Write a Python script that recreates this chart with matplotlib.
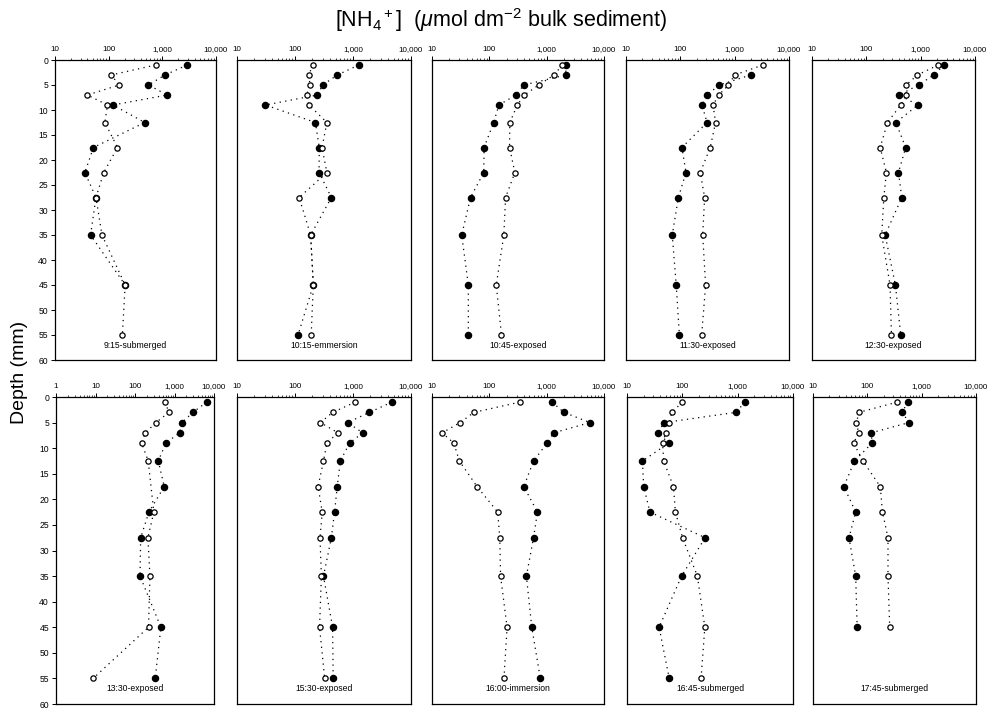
import numpy as np
import matplotlib
matplotlib.use('Agg')
import matplotlib.pyplot as plt
from matplotlib.ticker import FixedLocator, LogLocator, NullFormatter

plt.rcParams['font.family'] = ['Liberation Sans', 'DejaVu Sans']
plt.rcParams['mathtext.fontset'] = 'custom'
plt.rcParams['mathtext.rm'] = 'Liberation Sans'
plt.rcParams['mathtext.it'] = 'Liberation Sans:italic'

nan = np.nan
depth = [1, 3, 5, 7, 9, 12.5, 17.5, 22.5, 27.5, 35, 45, 55]

panel_labels = ["9:15-submerged", "10:15-emmersion", "10:45-exposed", "11:30-exposed",
                "12:30-exposed", "13:30-exposed", "15:30-exposed", "16:00-immersion",
                "16:45-submerged", "17:45-submerged"]

filled_0915 = [2900, 1120, 550, 1230, 120, 470, 52, 36, 58, 46, 203, nan]
open_0915 = [750, 111, 158, 40, 95, 85, 146, 81, 58, 75, 203, 180]

filled_1015 = [1260, 535, 300, 244, 31, 225, 262, 260, 424, 186, 207, 113]
open_1015 = [204, 172, 182, 158, 174, 355, 292, 355, 118, 186, 207, 190]

filled_1045 = [2190, 2140, 400, 290, 147, 119, 81, 80, 47, 33, 43, 43]
open_1045 = [1860, 1350, 725, 410, 308, 228, 225, 279, 192, 179, 132, 163]

filled_1130 = [nan, 1960, 520, 310, 250, 310, 107, 127, 92, 71, 84, 96]
open_1130 = [3300, 1000, 770, 510, 400, 445, 355, 233, 280, 258, 292, 247]

filled_1230 = [2700, 1740, 915, 400, 890, 350, 530, 390, 450, 222, 343, 430]
open_1230 = [2100, 870, 540, 540, 430, 245, 180, 234, 210, 192, 273, 290]

filled_1330 = [6550, 2900, 1560, 1340, 605, 388, 550, 225, 139, 134, 452, 325]
open_1330 = [580, 720, 340, 182, 147, 216, nan, 300, 212, 239, 220, 8.7]

filled_1530 = [4700, 1920, 810, 1470, 875, 605, 535, 480, 424, 310, 445, 455]
open_1530 = [1100, 445, 275, 550, 355, 310, 250, 295, 270, 285, 265, 325]

filled_1600 = [1250, 1990, 5700, 1320, 1020, 590, 400, 690, 590, 443, 550, 775]
open_1600 = [340, 54, 31, 15, 24, 30, 61, 140, 152, 157, 204, 180]

filled_1645 = [1350, 930, 47, 36, 57, 19, 20, 26, 258, 97, 38, 58]
open_1645 = [100, 65, 58, 50, 44, 46, 69, 75, 101, 187, 255, 218]

filled_1745 = [550, 440, 585, 118, 122, 58, 37, 61, 46, 61, 65, nan]
open_1745 = [355, 70, 63, 69, 56, 83, 173, 190, 240, 240, 258, nan]

filled_series = [filled_0915, filled_1015, filled_1045, filled_1130, filled_1230,
                 filled_1330, filled_1530, filled_1600, filled_1645, filled_1745]
open_series = [open_0915, open_1015, open_1045, open_1130, open_1230,
               open_1330, open_1530, open_1600, open_1645, open_1745]

xticks_std = [10, 100, 1000, 10000]
xticks_wide = [1, 10, 100, 1000, 10000]
xticklabels_std = ["10", "100", "1,000", "10,000"]
xticklabels_wide = ["1", "10", "100", "1,000", "10,000"]
yticks = [0, 5, 10, 15, 20, 25, 30, 35, 40, 45, 50, 55, 60]

W, H = 988, 708
# layout in pixels: (left, right, top, bottom)
top_row = [(55, 216), (237, 411), (432, 604), (626, 789), (812, 975)]
bot_row = [(56, 214), (237, 411), (432, 604), (627, 793), (813, 976)]
row_y = [(60, 360), (397, 704)]

fig = plt.figure(figsize=(W / 100, H / 100), dpi=100)
fig.patch.set_facecolor('white')

dot_style = (0, (1, 3.5))
for i in range(10):
    r = i // 5
    c = i % 5
    l, rt = (top_row if r == 0 else bot_row)[c]
    t, b = row_y[r]
    ax = fig.add_axes([l / W, 1 - b / H, (rt - l) / W, (b - t) / H])
    ax.set_xscale('log')
    wide = (i == 5)
    if wide:
        ax.set_xlim(1, 10000)
        ax.xaxis.set_major_locator(FixedLocator(xticks_wide))
        ax.set_xticklabels(xticklabels_wide)
    else:
        ax.set_xlim(10, 10000)
        ax.xaxis.set_major_locator(FixedLocator(xticks_std))
        ax.set_xticklabels(xticklabels_std)
    ax.xaxis.set_minor_locator(LogLocator(base=10, subs=np.arange(2, 10)))
    ax.xaxis.set_minor_formatter(NullFormatter())
    ax.xaxis.tick_top()
    ax.tick_params(axis='x', which='major', labelsize=5.8, length=3, width=0.7, pad=2)
    ax.tick_params(axis='x', which='minor', length=1.5, width=0.5)
    ax.set_ylim(60, 0)
    ax.set_yticks(yticks)
    if c == 0:
        ax.tick_params(axis='y', labelsize=6.2, length=3, width=0.7, pad=2)
    else:
        ax.tick_params(axis='y', labelleft=False, length=0)
    for sp in ax.spines.values():
        sp.set_linewidth(0.9)
    d = np.array(depth, dtype=float)
    fv = np.array(filled_series[i], dtype=float)
    ov = np.array(open_series[i], dtype=float)
    mf = ~np.isnan(fv)
    mo = ~np.isnan(ov)
    ax.plot(fv[mf], d[mf], linestyle=dot_style, color='black', lw=0.9,
            marker='o', ms=4.4, mfc='black', mec='black', zorder=3)
    ax.plot(ov[mo], d[mo], linestyle=dot_style, color='black', lw=0.9,
            marker='o', ms=3.8, mfc='white', mec='black', mew=0.9, zorder=4)
    ax.text(0.5, 57.0, panel_labels[i], transform=ax.get_yaxis_transform(),
            ha='center', va='center', fontsize=6.2)

fig.text(501 / W, 1 - 20 / H,
         r"[NH$_4$$^+$]  ($\mu$mol dm$^{-2}$ bulk sediment)",
         ha='center', va='center', fontsize=15.5)
fig.text(20 / W, 1 - 372 / H, "Depth (mm)", rotation=90, ha='center',
         va='center', fontsize=14)

fig.savefig('out.png', dpi=100, facecolor='white')
